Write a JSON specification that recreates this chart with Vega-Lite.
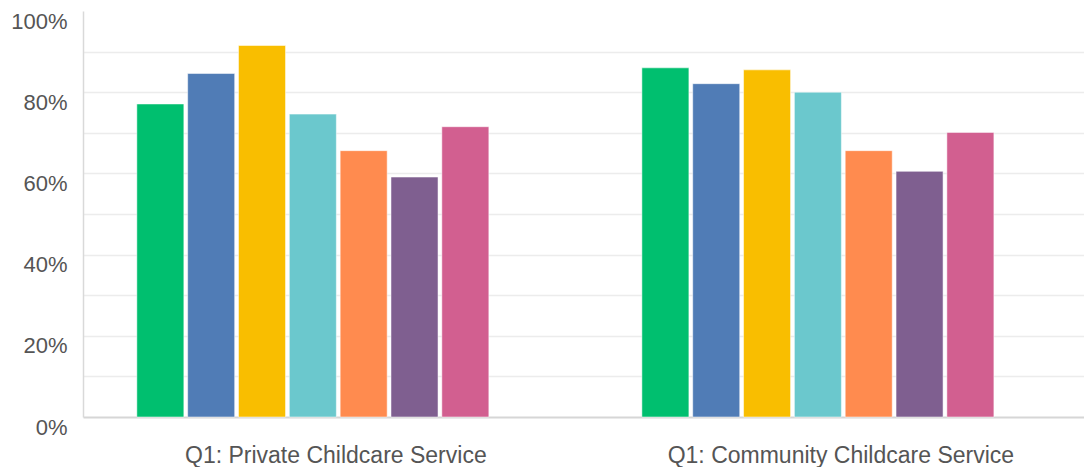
{
  "$schema": "https://vega.github.io/schema/vega-lite/v6.json",
  "autosize": {"type": "none"},
  "width": 1001,
  "height": 406,
  "padding": {"left": 83, "top": 11, "right": 0, "bottom": 50},
  "background": "white",
  "data": {
    "values": [
      {"group": "Q1: Private Childcare Service", "answer": "A1", "value": 0.771},
      {"group": "Q1: Private Childcare Service", "answer": "A2", "value": 0.846},
      {"group": "Q1: Private Childcare Service", "answer": "A3", "value": 0.915},
      {"group": "Q1: Private Childcare Service", "answer": "A4", "value": 0.746},
      {"group": "Q1: Private Childcare Service", "answer": "A5", "value": 0.656},
      {"group": "Q1: Private Childcare Service", "answer": "A6", "value": 0.591},
      {"group": "Q1: Private Childcare Service", "answer": "A7", "value": 0.715},
      {"group": "Q1: Community Childcare Service", "answer": "A1", "value": 0.860},
      {"group": "Q1: Community Childcare Service", "answer": "A2", "value": 0.821},
      {"group": "Q1: Community Childcare Service", "answer": "A3", "value": 0.855},
      {"group": "Q1: Community Childcare Service", "answer": "A4", "value": 0.800},
      {"group": "Q1: Community Childcare Service", "answer": "A5", "value": 0.656},
      {"group": "Q1: Community Childcare Service", "answer": "A6", "value": 0.605},
      {"group": "Q1: Community Childcare Service", "answer": "A7", "value": 0.701}
    ]
  },
  "config": {
    "view": {"stroke": null},
    "font": "Liberation Sans"
  },
  "mark": {"type": "bar", "stroke": "#ffffff", "strokeWidth": 1, "strokeOpacity": 0.5},
  "encoding": {
    "x": {
      "field": "group",
      "type": "nominal",
      "sort": ["Q1: Private Childcare Service", "Q1: Community Childcare Service"],
      "scale": {"paddingInner": 0.303, "paddingOuter": 0.1425, "align": 0.374},
      "axis": {
        "title": null,
        "labelAngle": 0,
        "labelLimit": 0,
        "labelFont": "Liberation Sans",
        "labelFontSize": 23,
        "labelColor": "#555555",
        "labelBaseline": "alphabetic",
        "labelPadding": 45,
        "labelOffset": 23,
        "ticks": false,
        "tickSize": 0,
        "domainColor": "#d6d6d6",
        "domainWidth": 2,
        "grid": false
      }
    },
    "xOffset": {
      "field": "answer",
      "type": "nominal",
      "sort": ["A1", "A2", "A3", "A4", "A5", "A6", "A7"],
      "scale": {"paddingInner": 0.075, "paddingOuter": 0}
    },
    "y": {
      "field": "value",
      "type": "quantitative",
      "scale": {"domain": [0, 1], "nice": false, "zero": true},
      "axis": {
        "title": null,
        "values": [0, 0.1, 0.2, 0.3, 0.4, 0.5, 0.6, 0.7, 0.8, 0.9, 1],
        "format": ".0%",
        "labelExpr": "round(datum.value * 100) % 20 == 0 ? datum.label : ''",
        "labelFont": "Liberation Sans",
        "labelFontSize": 22,
        "labelColor": "#555555",
        "labelPadding": 16,
        "labelOffset": 10,
        "ticks": false,
        "tickSize": 0,
        "domainColor": "#d9d9d9",
        "domainWidth": 1.5,
        "gridColor": "#ececec",
        "gridWidth": 1.5,
        "gridOpacity": {"condition": {"test": "datum.value >= 0.99 || datum.value <= 0.01", "value": 0}, "value": 1}
      }
    },
    "color": {
      "field": "answer",
      "type": "nominal",
      "scale": {
        "domain": ["A1", "A2", "A3", "A4", "A5", "A6", "A7"],
        "range": ["#00bf6f", "#507cb6", "#f9be00", "#6bc8cd", "#ff8b4f", "#7f5f90", "#d25f90"]
      },
      "legend": null
    }
  }
}
